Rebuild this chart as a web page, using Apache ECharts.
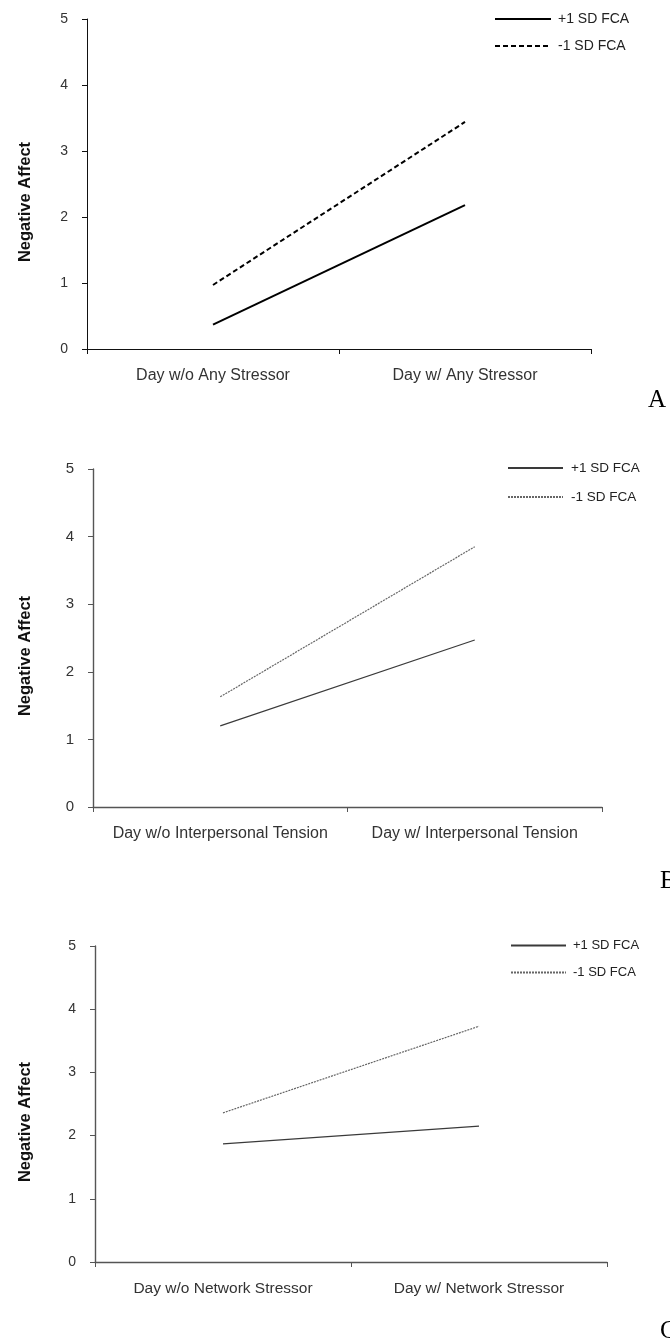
<!DOCTYPE html>
<html>
<head>
<meta charset="utf-8">
<script src="https://cdn.jsdelivr.net/npm/echarts@6/dist/echarts.min.js"></script>
<style>
html,body{margin:0;padding:0;background:#fff;}
#chart{width:670px;height:1343px;}
</style>
</head>
<body>
<div id="chart"></div>
<script>
// ---- data ----
const categoriesA = ['Day w/o Any Stressor', 'Day w/ Any Stressor'];
const categoriesB = ['Day w/o Interpersonal Tension', 'Day w/ Interpersonal Tension'];
const categoriesC = ['Day w/o Network Stressor', 'Day w/ Network Stressor'];
const plusA = [0.37, 2.18];
const minusA = [0.97, 3.44];
const plusB = [1.20, 2.47];
const minusB = [1.63, 3.85];
const plusC = [1.87, 2.15];
const minusC = [2.36, 3.73];
const yTicks = [0, 1, 2, 3, 4, 5];
const seriesNames = ['+1 SD FCA', '-1 SD FCA'];
const yName = 'Negative Affect';
const panelLabels = ['A', 'B', 'C'];

const FONT = "'Liberation Sans', Arial, sans-serif";

const chart = echarts.init(document.getElementById('chart'));

const grids = [
  {left: 87, top: 19, width: 504, height: 330},
  {left: 93, top: 469, width: 509, height: 338},
  {left: 95, top: 946, width: 512, height: 316}
];
const axisCol = ['#111', '#555', '#555'];
const axisW = [1, 1.4, 1.4];
const cats = [categoriesA, categoriesB, categoriesC];
const plus = [plusA, plusB, plusC];
const minus = [minusA, minusB, minusC];
const xFont = [16, 16, 15.5];
const yFont = [14, 15, 14];
const nameGaps = [53, 59, 61];

const xAxes = [], yAxes = [], series = [], legends = [];
for (let i = 0; i < 3; i++) {
  xAxes.push({
    type: 'category', gridIndex: i, data: cats[i], boundaryGap: true,
    axisLine: {lineStyle: {color: axisCol[i], width: axisW[i]}},
    axisTick: {show: true, interval: 0, length: 5, inside: false, lineStyle: {color: axisCol[i], width: 1}},
    axisLabel: {interval: 0, hideOverlap: false, color: '#333', fontFamily: FONT, fontSize: xFont[i], margin: 19},
    splitLine: {show: false}
  });
  yAxes.push({
    type: 'value', gridIndex: i, min: yTicks[0], max: yTicks[yTicks.length - 1], interval: 1,
    name: yName, nameLocation: 'middle', nameGap: nameGaps[i], nameRotate: 90,
    nameTextStyle: {color: '#111', fontFamily: FONT, fontSize: 16.5, fontWeight: 'bold', padding: [0, 36, 0, 0]},
    axisLine: {show: true, lineStyle: {color: axisCol[i], width: axisW[i]}},
    axisTick: {show: true, length: 5, inside: false, lineStyle: {color: axisCol[i], width: 1}},
    axisLabel: {color: '#333', fontFamily: FONT, fontSize: yFont[i], margin: 19},
    splitLine: {show: false}
  });
  const tag = panelLabels[i] + '|';
  const solidCol = i === 0 ? '#000' : '#3a3a3a';
  const dashCol = i === 0 ? '#000' : '#666';
  const lw = i === 0 ? 2 : 1.2;
  series.push({
    name: tag + seriesNames[0], type: 'line', xAxisIndex: i, yAxisIndex: i,
    data: plus[i], symbol: 'none', animation: false,
    lineStyle: {color: solidCol, width: lw, type: 'solid'},
    itemStyle: {color: solidCol}
  });
  series.push({
    name: tag + seriesNames[1], type: 'line', xAxisIndex: i, yAxisIndex: i,
    data: minus[i], symbol: 'none', animation: false,
    lineStyle: {color: dashCol, width: lw, type: i === 0 ? [5, 3] : [2, 1]},
    itemStyle: {color: dashCol}
  });
}

const legendCommon = {
  orient: 'vertical', padding: 0, itemHeight: 14, selectedMode: false,
  formatter: n => n.split('|')[1],
  itemStyle: {opacity: 0, borderWidth: 0},
  lineStyle: {opacity: 1}
};
legends.push(Object.assign({}, legendCommon, {
  data: ['A|' + seriesNames[0], 'A|' + seriesNames[1]],
  left: 494, top: 12, itemGap: 13, itemWidth: 56,
  textStyle: {color: '#222', fontFamily: FONT, fontSize: 14, padding: [0, 0, 0, 2]}
}));
legends.push(Object.assign({}, legendCommon, {
  data: ['B|' + seriesNames[0], 'B|' + seriesNames[1]],
  left: 507, top: 461, itemGap: 15, itemWidth: 55,
  textStyle: {color: '#222', fontFamily: FONT, fontSize: 13.5, padding: [0, 0, 0, 3]}
}));
legends.push(Object.assign({}, legendCommon, {
  data: ['C|' + seriesNames[0], 'C|' + seriesNames[1]],
  left: 510, top: 939, itemGap: 14, itemWidth: 55,
  textStyle: {color: '#222', fontFamily: FONT, fontSize: 13, padding: [0, 0, 0, 2]}
}));

const labelPos = [[648, 407], [660, 888], [660, 1338]];
const graphic = panelLabels.map((t, i) => ({
  type: 'text', left: labelPos[i][0], top: labelPos[i][1] - 19,
  style: {text: t, font: "25px 'Liberation Serif', 'Times New Roman', serif", fill: '#000'}
}));

chart.setOption({
  animation: false,
  backgroundColor: '#fff',
  grid: grids,
  xAxis: xAxes,
  yAxis: yAxes,
  legend: legends,
  series: series,
  graphic: graphic
});
</script>
</body>
</html>
